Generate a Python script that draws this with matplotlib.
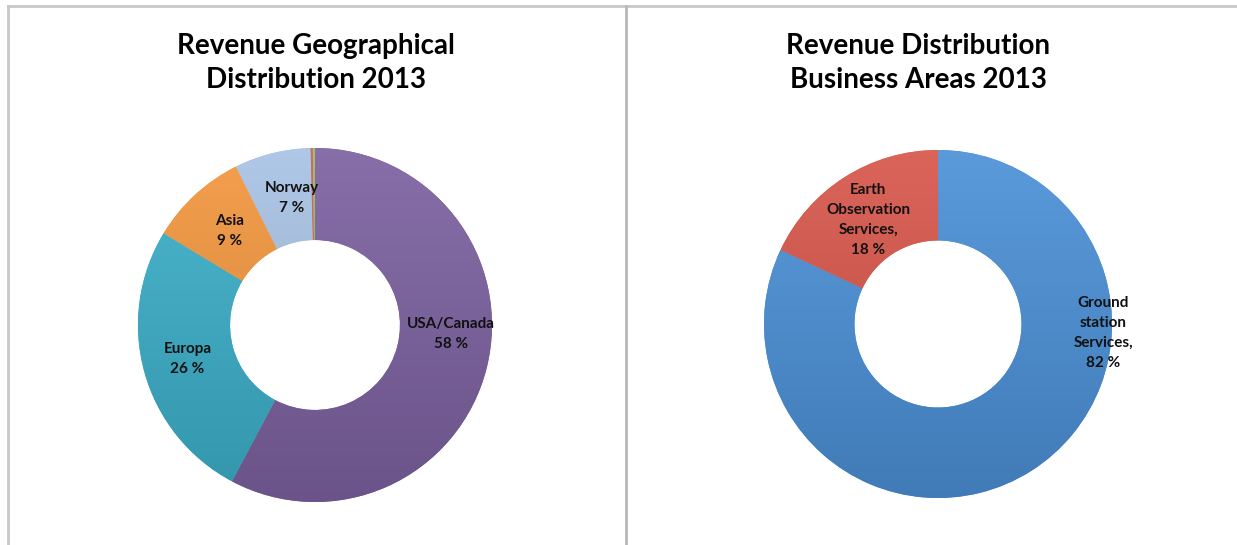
import numpy as np
import matplotlib.pyplot as plt
from matplotlib.lines import Line2D
from matplotlib.colors import to_rgb

plt.rcParams['font.family'] = ['Lato', 'DejaVu Sans']

# left chart data
geo_labels = ['USA/Canada', 'Europa', 'Asia', 'Norway', 'Other 1', 'Other 2']
geo_values = [58, 26, 9, 7, 0.2, 0.2]
geo_colors = ['#7d62a1', '#3cb0ca', '#f3973f', '#a9c3e5', '#c9605a', '#9bbb59']
geo_show = [True, True, True, True, False, False]

# right chart data
biz_labels = ['Ground\nstation\nServices,', 'Earth\nObservation\nServices,']
biz_values = [82, 18]
biz_colors = ['#4c91d8', '#d8574b']

W, H = 1237, 545
fig = plt.figure(figsize=(W / 100, H / 100), dpi=100)

# panel frames
fig.add_artist(Line2D([8 / W, 1], [1 - 6 / H, 1 - 6 / H], color='#c8c8c8', lw=2.0))
fig.add_artist(Line2D([8 / W, 8 / W], [0, 1 - 6 / H], color='#c8c8c8', lw=2.0))
fig.add_artist(Line2D([626 / W, 626 / W], [0, 1 - 6 / H], color='#b8b8b8', lw=2.0))


def shade(c):
    # light at top, darker at bottom, like the office gradient fill
    c = np.array(to_rgb(c))
    t = np.linspace(0, 1, 256)[:, None]
    top = c + (1 - c) * 0.08
    bot = c * 0.85
    return (top * (1 - t) + bot * t)[:, None, :]


def donut(cx, cy, r, values, colors):
    ax = fig.add_axes([(cx - r) / W, (H - cy - r) / H, 2 * r / W, 2 * r / H])
    wedges, _ = ax.pie(values, colors=colors, startangle=90, counterclock=False,
                       radius=1.0, wedgeprops=dict(width=0.52, edgecolor='none'))
    for w, c in zip(wedges, colors):
        im = ax.imshow(shade(c), extent=(-1, 1, -1, 1), origin='upper',
                       aspect='auto', zorder=w.get_zorder() + 0.1)
        im.set_clip_path(w)
    ax.set_xlim(-1, 1)
    ax.set_ylim(-1, 1)
    ax.set_aspect('equal')
    ax.axis('off')
    return ax


lab_kw = dict(ha='center', va='center', fontsize=11, fontweight='bold',
              color='#111111', linespacing=1.55, clip_on=False, zorder=10)

ax1 = donut(315, 325, 177, geo_values, geo_colors)
# label spots (pie units) picked to sit where Excel put them
geo_pos = [(0.77, -0.05), (-0.72, -0.19), (-0.48, 0.53), (-0.13, 0.72)]
for i, (lab, v) in enumerate(zip(geo_labels, geo_values)):
    if not geo_show[i]:
        continue
    x, y = geo_pos[i]
    ax1.text(x, y, f'{lab}\n{v:.0f} %', **lab_kw)

ax2 = donut(938, 324, 174, biz_values, biz_colors)
biz_pos = [(0.95, -0.05), (-0.40, 0.60)]
for (lab, v), (x, y) in zip(zip(biz_labels, biz_values), biz_pos):
    ax2.text(x, y, f'{lab}\n{v:.0f} %', **lab_kw)

fig.text(316 / W, 1 - 63 / H, 'Revenue Geographical\nDistribution 2013', ha='center',
         va='center', fontsize=20, fontweight='bold', linespacing=1.4)
fig.text(918 / W, 1 - 63 / H, 'Revenue Distribution\nBusiness Areas 2013', ha='center',
         va='center', fontsize=20, fontweight='bold', linespacing=1.4)

fig.savefig('out.png', dpi=100, facecolor='white')
